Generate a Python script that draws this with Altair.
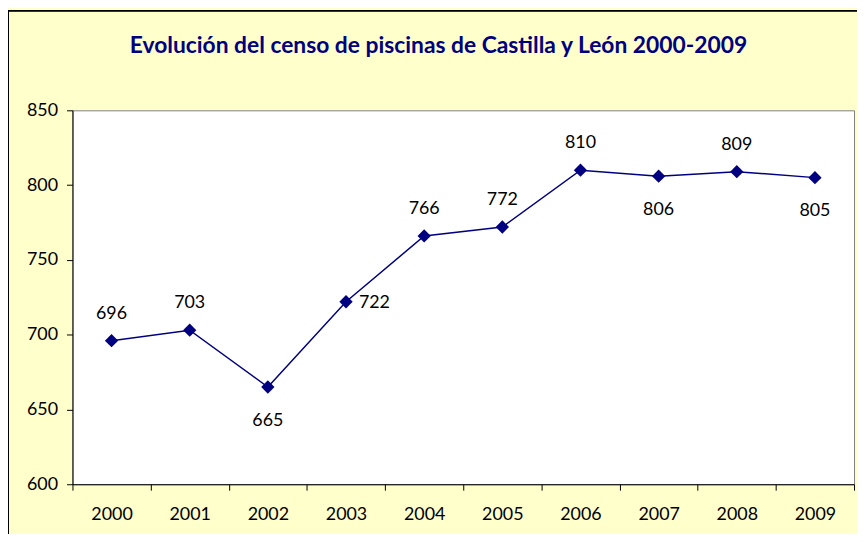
import altair as alt
import pandas as pd

years = ["2000", "2001", "2002", "2003", "2004", "2005", "2006", "2007", "2008", "2009"]
values = [696, 703, 665, 722, 766, 772, 810, 806, 809, 805]
label_side = ["above", "above", "below", "right", "above", "above", "above", "below", "above", "below"]
title_text = "Evolución del censo de piscinas de Castilla y León 2000-2009"

df = pd.DataFrame({"year": years, "value": values, "side": label_side})

FONT = "Lato"
NAVY = "#000080"

x_enc = alt.X("year:O", bandPosition=0.5,
              scale=alt.Scale(type="band", paddingInner=0, paddingOuter=0),
              axis=alt.Axis(title=None, labelAngle=0, tickBand="extent", tickSize=6,
                            labelPadding=16, labelFontSize=18, labelColor="black",
                            domainColor="black", tickColor="black", labelFont=FONT))
y_enc = alt.Y("value:Q",
              scale=alt.Scale(domain=[600, 850], nice=False, zero=False),
              axis=alt.Axis(title=None, values=[600, 650, 700, 750, 800, 850], grid=False,
                            tickSize=6, labelPadding=9, labelFontSize=18, labelColor="black",
                            domainColor="black", tickColor="black", labelFont=FONT))

base = alt.Chart(df).encode(x=x_enc, y=y_enc)

frame = alt.Chart(df).mark_rect(fill=None, stroke="black", strokeWidth=1).encode(
    x=alt.value(-64.5), x2=alt.value(900), y=alt.value(-100.5), y2=alt.value(600)
)

title = alt.Chart(pd.DataFrame({"t": [title_text]})).mark_text(
    font=FONT, fontSize=23, fontWeight="bold", color=NAVY, align="center", baseline="middle"
).encode(text="t:N", x=alt.value(369), y=alt.value(-65))

line = base.mark_line(color=NAVY, strokeWidth=1.5)
pts = base.mark_point(shape="diamond", filled=True, color=NAVY, size=180, opacity=1)

def labels(side, dx, dy, align):
    return base.transform_filter(alt.datum.side == side).mark_text(
        font=FONT, fontSize=18, color="black", dx=dx, dy=dy, align=align, baseline="middle"
    ).encode(text="value:Q")

chart = alt.layer(
    frame, title, line, pts,
    labels("above", 0, -27, "center"),
    labels("below", 0, 34, "center"),
    labels("right", 13, 1, "left"),
).properties(
    width=788, height=377,
    autosize=alt.AutoSizeParams(type="none"),
    padding={"left": 65, "top": 101, "right": 3, "bottom": 48},
    background="#FFFFCC",
).configure_view(fill="white", stroke="#808080", strokeWidth=1)

chart.save("out.html", embed_options={"renderer": "svg", "actions": False})
